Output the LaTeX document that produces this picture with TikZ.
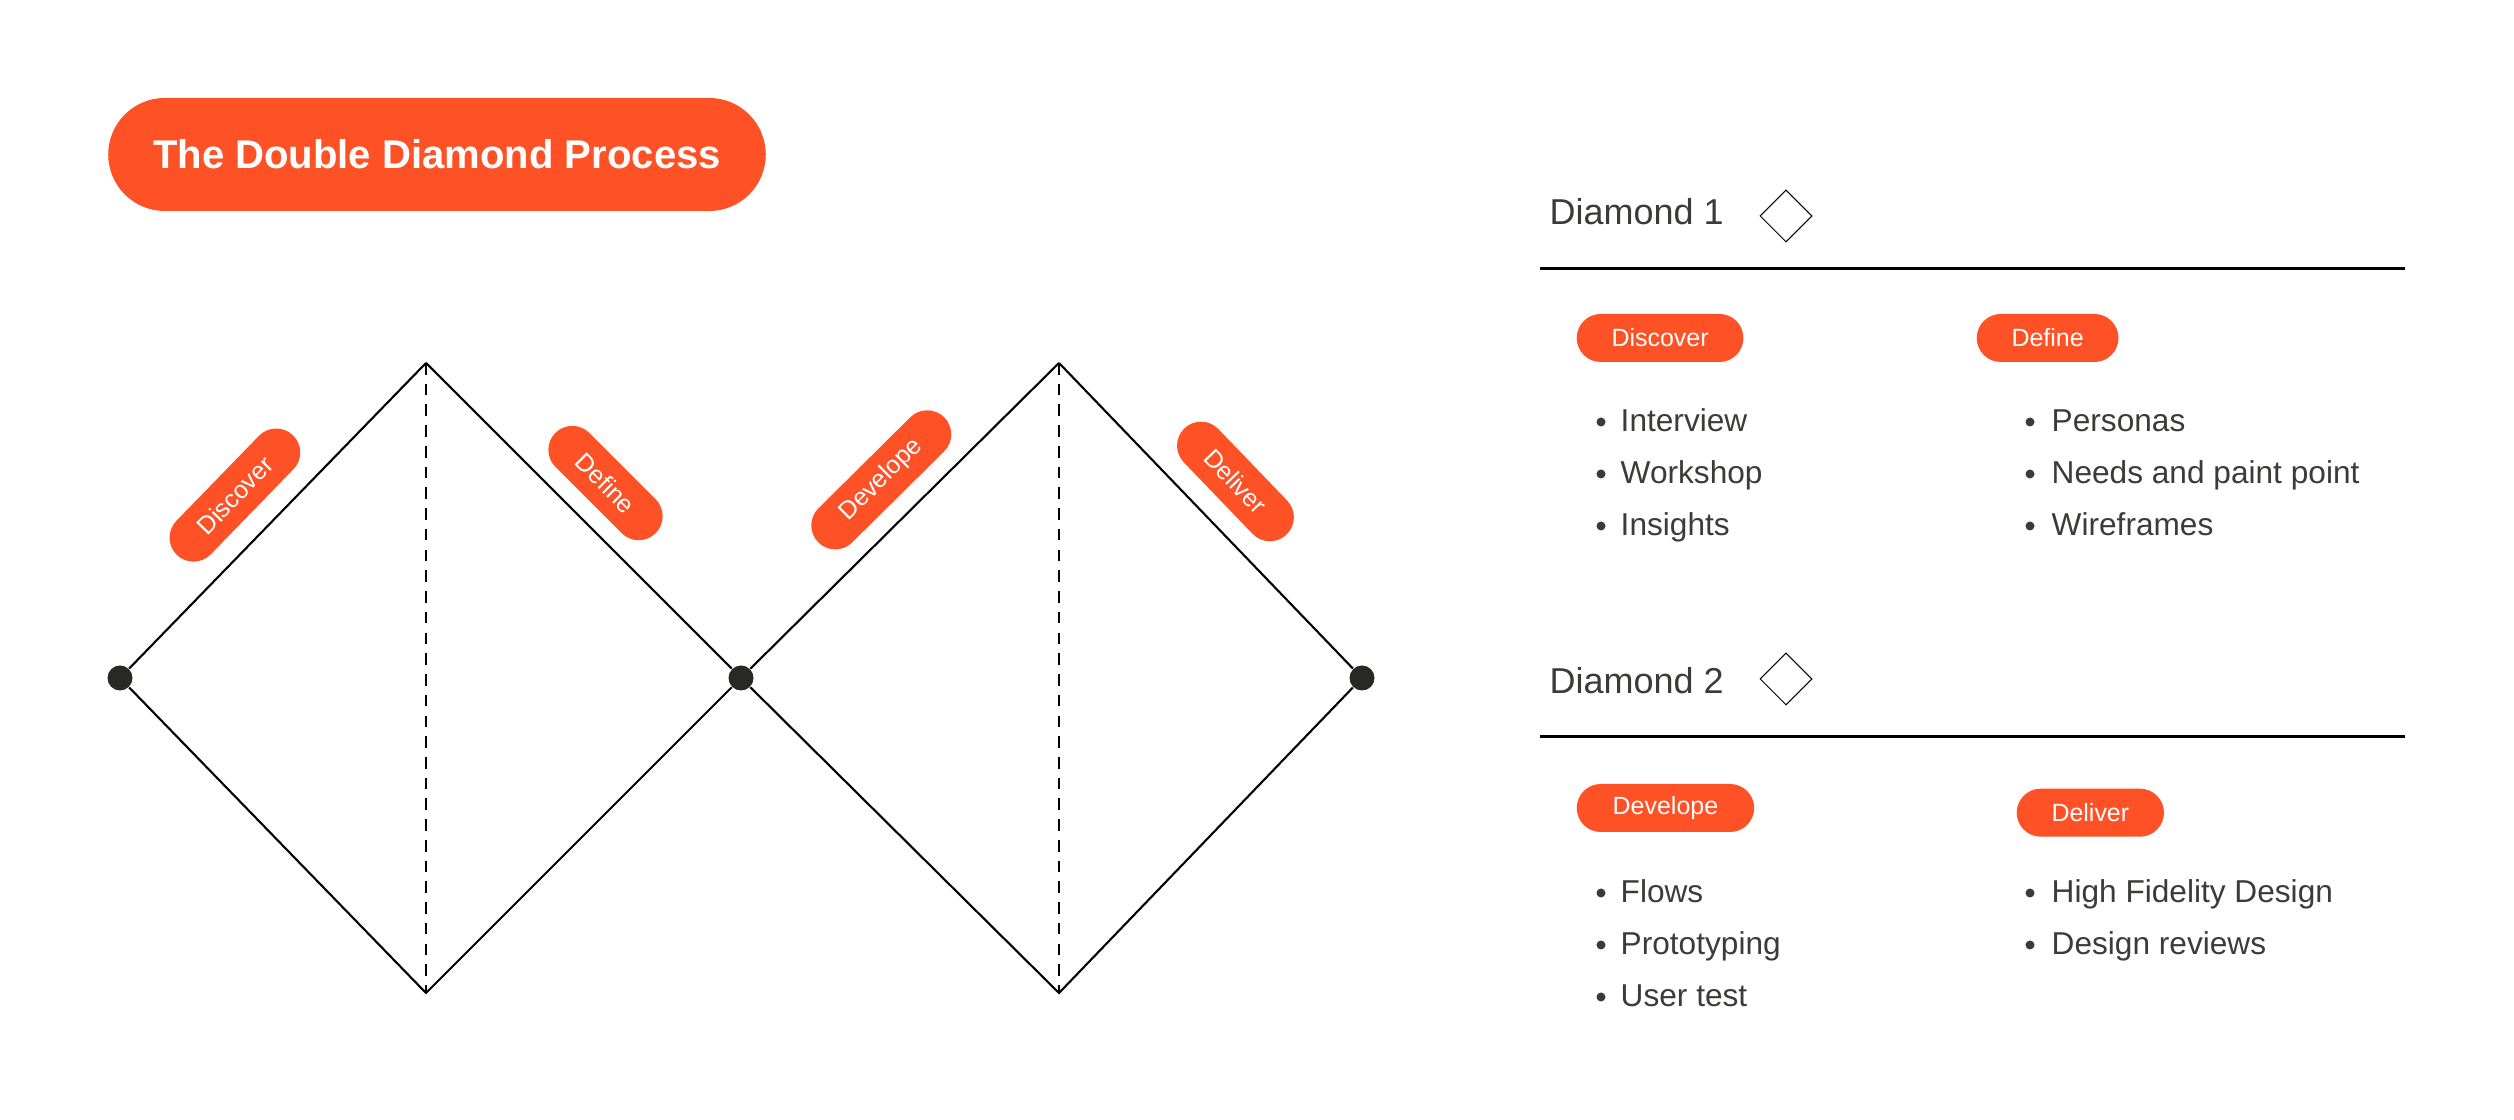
\documentclass[tikz,border=0pt]{standalone}
\usepackage{fontspec}
\setmainfont{Liberation Sans}
\usetikzlibrary{shapes.geometric, shapes.misc}

\definecolor{flame}{HTML}{FF5126}
\definecolor{ink}{HTML}{3D3B39}
\definecolor{dotgrey}{HTML}{282824}

\begin{document}
\begin{tikzpicture}[
    pill/.style   = {rounded rectangle, fill=flame, text=white, inner xsep=0.33cm,
                     inner ysep=0pt, minimum height=0.48cm,
                     font=\fontsize{7.1}{8}\selectfont},
    banner/.style = {rounded rectangle, fill=flame, text=white,
                     minimum width=6.81cm, minimum height=1.13cm,
                     font=\fontsize{11.4}{13}\selectfont\bfseries},
    edge/.style   = {line width=0.6pt},
    mid/.style    = {line width=0.6pt, dash pattern=on 3.3pt off 2.6pt},
    joint/.style  = {circle, fill=dotgrey, inner sep=0pt, minimum size=0.25cm},
    head/.style   = {anchor=base west, inner sep=0pt, text=ink,
                     font=\fontsize{10.24}{12}\selectfont},
    item/.style   = {anchor=base west, inner sep=0pt, text=ink,
                     font=\fontsize{9}{11}\selectfont},
    gem/.style    = {diamond, draw, line width=0.3pt, inner sep=0pt,
                     minimum width=0.52cm, minimum height=0.52cm},
    rule/.style   = {line width=0.8pt}
  ]
    \useasboundingbox (0,0) rectangle (25.14,11.20);

    \node[banner] (title) at (4.37,9.655) {The Double Diamond Process};

    % the two diamonds
    \node[joint] (start)  at (1.20,4.42)  {};
    \node[joint] (hinge)  at (7.41,4.42)  {};
    \node[joint] (finish) at (13.62,4.42) {};
    \coordinate (top1) at (4.26,7.57);
    \coordinate (bot1) at (4.26,1.27);
    \coordinate (top2) at (10.59,7.57);
    \coordinate (bot2) at (10.59,1.27);

    \draw[edge] (start) -- node[pill, sloped, above=0.2cm, pos=0.465] (s-discover) {Discover} (top1);
    \draw[edge] (top1)  -- node[pill, sloped, above=0.17cm, pos=0.49] (s-define)   {Define}   (hinge);
    \draw[edge] (hinge) -- node[pill, sloped, above=0.17cm, pos=0.52] (s-develope) {Develope} (top2);
    \draw[edge] (top2)  -- node[pill, sloped, above=0.2cm, pos=0.49]  (s-deliver)  {Deliver}  (finish);
    \draw[edge] (start) -- (bot1) -- (hinge) -- (bot2) -- (finish);
    \draw[mid] (top1) -- (bot1);
    \draw[mid] (top2) -- (bot2);

    % key, diamond 1
    \node[head] (d1) at (15.49,8.95) {Diamond 1};
    \node[gem]  (g1) at (17.86,9.04) {};
    \draw[rule] (15.40,8.513) -- (24.05,8.513);
    \node[pill, anchor=west] (k-discover) at (15.76,7.82) {Discover};
    \node[pill, anchor=west] (k-define)   at (19.76,7.82) {Define};
    \foreach \t [count=\i] in {Interview, Workshop, Insights} {
      \node[item] (disc-\i) at (16.20,7.40-0.52*\i) {\t};
      \fill[ink] (16.01,7.50-0.52*\i) circle (0.045);
    }
    \foreach \t [count=\i] in {Personas, Needs and paint point, Wireframes} {
      \node[item] (def-\i) at (20.51,7.40-0.52*\i) {\t};
      \fill[ink] (20.30,7.50-0.52*\i) circle (0.045);
    }

    % key, diamond 2
    \node[head] (d2) at (15.49,4.26) {Diamond 2};
    \node[gem]  (g2) at (17.86,4.41) {};
    \draw[rule] (15.40,3.833) -- (24.05,3.833);
    \node[pill, anchor=west] (k-develope) at (15.76,3.12)  {Develope};
    \node[pill, anchor=west] (k-deliver)  at (20.16,3.073) {Deliver};
    \foreach \t [count=\i] in {Flows, Prototyping, User test} {
      \node[item] (dev-\i) at (16.20,2.69-0.52*\i) {\t};
      \fill[ink] (16.01,2.79-0.52*\i) circle (0.045);
    }
    \foreach \t [count=\i] in {High Fidelity Design, Design reviews} {
      \node[item] (del-\i) at (20.51,2.69-0.52*\i) {\t};
      \fill[ink] (20.30,2.79-0.52*\i) circle (0.045);
    }
  \end{tikzpicture}
\end{document}
